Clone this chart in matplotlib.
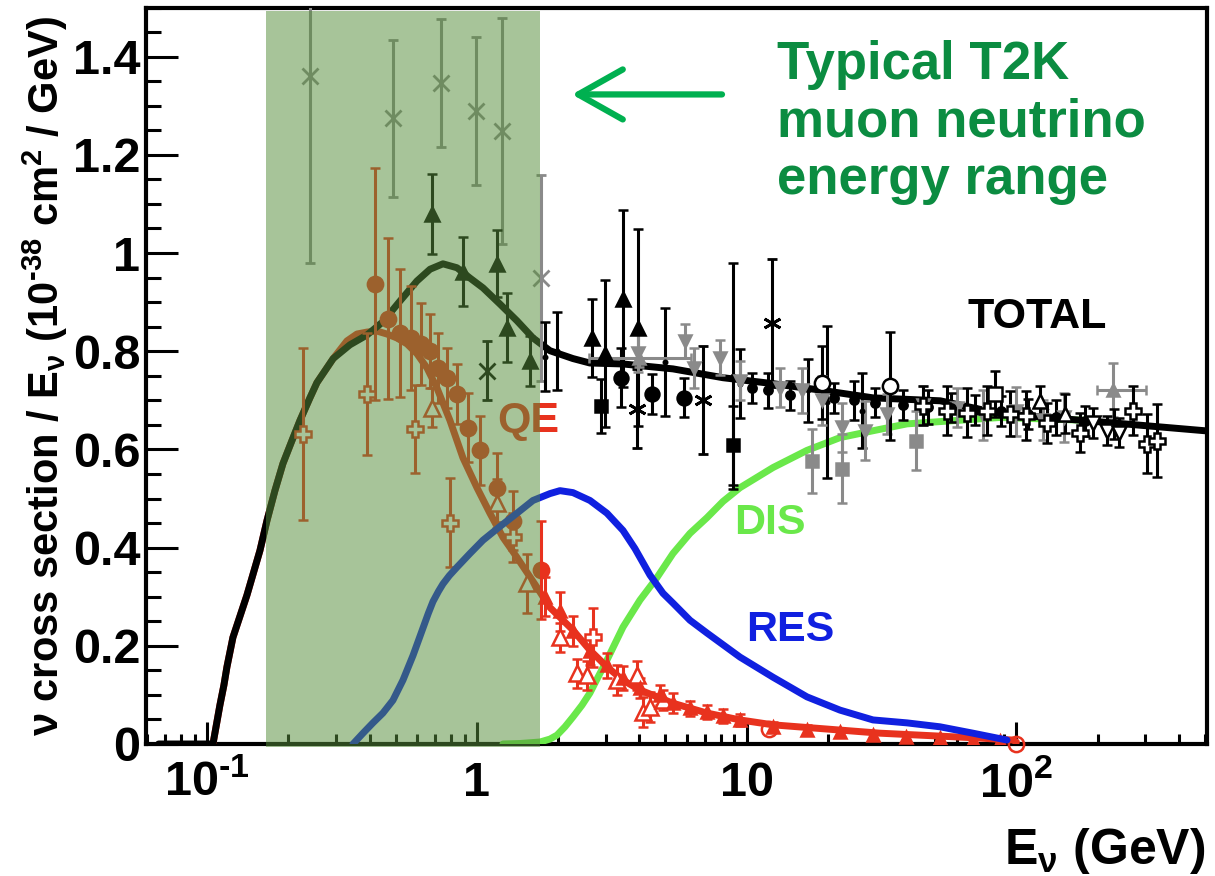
import matplotlib
matplotlib.use("Agg")
import matplotlib.pyplot as plt
from matplotlib.ticker import FixedLocator, FixedFormatter, LogLocator, NullFormatter, MultipleLocator, FuncFormatter

plt.rcParams["font.family"] = ["Liberation Sans", "DejaVu Sans"]
plt.rcParams["font.weight"] = "bold"
plt.rcParams["mathtext.fontset"] = "custom"
for k in ("rm", "it", "bf", "sf"):
    plt.rcParams[f"mathtext.{k}"] = "Liberation Sans:bold"

# ---- model curves (E in GeV, sigma/E in 1e-38 cm^2/GeV) ----
total_E = [0.066, 0.105, 0.1086, 0.1114, 0.1153, 0.1183, 0.1245, 0.1403, 0.1568, 0.1665, 0.1782, 0.1908,
           0.2061, 0.2207, 0.2403, 0.2551, 0.293, 0.338, 0.391, 0.448, 0.518, 0.599, 0.670, 0.748, 0.843,
           0.942, 1.053, 1.217, 1.407, 1.613, 1.865, 2.27, 2.62, 3.48, 5.33, 8.17, 12.5, 19.2, 29.4,
           52.2, 86.8, 228, 500]
total_v = [0.0, 0.0, 0.045, 0.079, 0.12, 0.157, 0.217, 0.303, 0.394, 0.455, 0.516, 0.571,
           0.618, 0.659, 0.705, 0.736, 0.785, 0.813, 0.833, 0.860, 0.902, 0.943, 0.967, 0.978, 0.970,
           0.949, 0.929, 0.896, 0.862, 0.827, 0.801, 0.785, 0.776, 0.774, 0.764, 0.746, 0.734, 0.720, 0.705,
           0.699, 0.673, 0.654, 0.638]

qe_E = [0.105, 0.1086, 0.1114, 0.1153, 0.1183, 0.1245, 0.1403, 0.1568, 0.1665, 0.1782, 0.1908, 0.2061,
        0.2207, 0.2403, 0.2551, 0.293, 0.3296, 0.3589, 0.391, 0.4258, 0.4637, 0.505, 0.55, 0.599, 0.6526,
        0.7108, 0.794, 0.887, 1.0, 1.117, 1.248, 1.407, 1.669, 1.865, 2.031, 2.269, 2.624, 3.034, 3.478,
        4.02, 5.33, 7.126, 9.445, 12.52, 31.2, 73.3, 97.1, 100]
qe_v = [0.0, 0.045, 0.079, 0.12, 0.157, 0.217, 0.303, 0.394, 0.455, 0.516, 0.571, 0.618,
        0.659, 0.705, 0.736, 0.785, 0.821, 0.835, 0.839, 0.841, 0.835, 0.827, 0.815, 0.795, 0.766,
        0.725, 0.659, 0.583, 0.522, 0.470, 0.421, 0.380, 0.319, 0.278, 0.258, 0.232, 0.191, 0.157, 0.130,
        0.110, 0.083, 0.063, 0.049, 0.039, 0.022, 0.012, 0.008, 0.004]

res_E = [0.347, 0.378, 0.4114, 0.448, 0.488, 0.5316, 0.579, 0.6306, 0.66, 0.6868, 0.72, 0.748, 0.79, 0.843,
         0.9419, 1.0525, 1.2169, 1.407, 1.613, 1.865, 2.031, 2.269, 2.624, 3.034, 3.478, 3.853, 4.38, 4.895,
         5.33, 6.163, 7.126, 9.445, 12.52, 16.73, 22.18, 29.4, 39.3, 52.1, 69.0, 92.3]
res_v = [0.0, 0.022, 0.043, 0.063, 0.089, 0.130, 0.180, 0.236, 0.266, 0.290, 0.311, 0.326, 0.343, 0.360,
         0.388, 0.415, 0.443, 0.470, 0.496, 0.510, 0.516, 0.512, 0.496, 0.470, 0.435, 0.398, 0.344, 0.307,
         0.287, 0.252, 0.226, 0.177, 0.136, 0.096, 0.069, 0.049, 0.043, 0.035, 0.022, 0.008]

dis_E = [1.248, 1.443, 1.712, 1.865, 1.98, 2.12, 2.269, 2.451, 2.624, 2.81, 3.034, 3.478, 4.02, 4.65,
         5.33, 6.163, 7.126, 8.17, 9.445, 12.52, 16.73, 22.18, 29.4, 39.3, 86.8, 187.5]
dis_v = [0.0, 0.001, 0.004, 0.010, 0.018, 0.035, 0.055, 0.079, 0.104, 0.136, 0.171, 0.238, 0.293, 0.339,
         0.388, 0.429, 0.461, 0.494, 0.522, 0.563, 0.598, 0.624, 0.638, 0.652, 0.665, 0.659]

# ---- measurements ----
grey_x_E = [0.240, 0.488, 0.736, 0.990, 1.238, 1.727]
grey_x_v = [1.360, 1.274, 1.346, 1.289, 1.248, 0.949]
grey_x_err = [0.38, 0.16, 0.13, 0.15, 0.23, 0.21]

blk_tri_E = [0.681, 0.887, 1.186, 1.292, 1.572, 2.669, 2.983, 3.478, 3.954]
blk_tri_v = [1.079, 0.962, 0.978, 0.848, 0.780, 0.827, 0.795, 0.907, 0.848]
blk_tri_err = [0.082, 0.07, 0.068, 0.07, 0.05, 0.08, 0.15, 0.18, 0.20]

blk_bar_E = [1.79, 1.98, 4.98, 8.9, 9.44, 16.9, 19.8, 26.8]
blk_bar_v = [0.789, 0.80, 0.778, 0.75, 0.734, 0.72, 0.697, 0.679]
blk_bar_err = [0.07, 0.08, 0.11, 0.23, 0.07, 0.065, 0.155, 0.077]

blk_x_E = [1.089]
blk_x_v = [0.76]
blk_x_err = [0.06]

blk_star_E = [3.92, 6.89, 12.4]
blk_star_v = [0.683, 0.70, 0.858]
blk_star_err = [0.08, 0.11, 0.13]

blk_circ_E = [3.42, 4.46, 5.86]
blk_circ_v = [0.746, 0.713, 0.705]
blk_circ_err = [0.06, 0.04, 0.04]

blk_sq_E = [2.88, 8.90]
blk_sq_v = [0.689, 0.608]
blk_sq_err = [0.055, 0.08]

blk_dot_E = [10.5, 12, 14.5, 21, 25, 30, 38, 47, 57, 70, 88, 110, 140, 180, 230]
blk_dot_v = [0.725, 0.72, 0.71, 0.705, 0.70, 0.695, 0.69, 0.687, 0.685, 0.68, 0.678, 0.672, 0.665, 0.658, 0.652]
blk_dot_err = [0.03, 0.035, 0.03, 0.03, 0.04, 0.03, 0.03, 0.035, 0.03, 0.03, 0.03, 0.03, 0.035, 0.03, 0.03]

open_circ_E = [19.0, 34.0]
open_circ_v = [0.736, 0.730]
open_circ_err = [0.075, 0.11]

grey_dtri_E = [3.95, 5.9, 6.36, 7.96, 9.44, 13.3, 16.1, 19.1, 22.5, 27.4, 33, 45, 60, 75, 100, 125, 150]
grey_dtri_v = [0.797, 0.821, 0.766, 0.787, 0.74, 0.726, 0.72, 0.70, 0.645, 0.638, 0.672, 0.69, 0.685, 0.67, 0.678, 0.66, 0.665]
grey_dtri_err = [0.04, 0.035, 0.04, 0.035, 0.04, 0.04, 0.045, 0.05, 0.05, 0.06, 0.04, 0.04, 0.04, 0.05, 0.05, 0.04, 0.05]

grey_sq_E = [17.5, 22.5, 42.4]
grey_sq_v = [0.577, 0.561, 0.618]
grey_sq_err = [0.065, 0.07, 0.06]

grey_utri_E = [4.0, 228]
grey_utri_v = [0.787, 0.72]
grey_utri_err = [0.02, 0.055]
grey_utri_xlo = [2.6, 199]
grey_utri_xhi = [6.2, 303]

open_cross_E = [45, 55.3, 65.6, 77.8, 94.6, 109, 130, 172, 271, 305, 332]
open_cross_v = [0.689, 0.679, 0.675, 0.679, 0.673, 0.669, 0.654, 0.634, 0.679, 0.612, 0.618]
open_cross_err = [0.04, 0.05, 0.05, 0.05, 0.045, 0.05, 0.04, 0.04, 0.05, 0.06, 0.075]

open_tri_E = [122, 151]
open_tri_v = [0.699, 0.673]
open_tri_err = [0.03, 0.04]

open_dtri_E = [192, 216, 240]
open_dtri_v = [0.654, 0.638, 0.634]
open_dtri_err = [0.03, 0.03, 0.03]

open_sq_E = [83.3]
open_sq_v = [0.713]
open_sq_err = [0.047]

qe_circ_E = [0.419, 0.468, 0.518, 0.569, 0.620, 0.670, 0.717, 0.774, 0.843, 0.926, 1.026, 1.186, 1.36, 1.727]
qe_circ_v = [0.937, 0.866, 0.837, 0.827, 0.815, 0.801, 0.766, 0.746, 0.713, 0.644, 0.598, 0.522, 0.455, 0.354]
qe_circ_err = [0.236, 0.164, 0.13, 0.106, 0.083, 0.075, 0.071, 0.061, 0.061, 0.07, 0.07, 0.07, 0.06, 0.1]

qe_cross_E = [0.226, 0.391, 0.589, 0.794, 1.36, 2.69]
qe_cross_v = [0.632, 0.713, 0.642, 0.451, 0.421, 0.217]
qe_cross_err = [0.175, 0.125, 0.09, 0.09, 0.05, 0.06]

qe_otri_E = [0.681, 1.186, 1.532, 2.03, 2.35, 2.56, 3.3, 3.92, 4.13, 4.38, 4.9]
qe_otri_v = [0.685, 0.49, 0.327, 0.217, 0.144, 0.14, 0.13, 0.14, 0.065, 0.075, 0.089]
qe_otri_err = [0.04, 0.05, 0.06, 0.03, 0.03, 0.03, 0.03, 0.03, 0.03, 0.03, 0.02]

qe_tri_E = [1.79, 2.03, 2.27, 2.62, 3.03, 3.48, 4.02, 4.77, 5.33, 6.16, 7.12, 8.17, 9.43, 12.5, 16.7,
            22.2, 29.4, 39, 52, 69, 87]
qe_tri_v = [0.30, 0.27, 0.23, 0.19, 0.16, 0.134, 0.114, 0.10, 0.083, 0.073, 0.065, 0.057, 0.049, 0.035, 0.028,
            0.024, 0.018, 0.014, 0.012, 0.008, 0.006]
qe_tri_err = [0.04, 0.04, 0.03, 0.03, 0.025, 0.025, 0.02, 0.02, 0.02, 0.015, 0.015, 0.015, 0.012, 0.01, 0.01,
              0.008, 0.008, 0.006, 0.006, 0.005, 0.005]

qe_ocirc_E = [12.1, 100]
qe_ocirc_v = [0.03, 0.0]

BLACK = "#000000"
GREY = "#8a8a8a"
RED = "#e8321e"


def points(ax, E, v, err, marker, color, face=None, ms=10, mew=1.8, xerr=None):
    ax.errorbar(E, v, yerr=err, xerr=xerr, ls="none", marker=marker, color=color, ecolor=color,
                mfc=face or color, mec=color, ms=ms, mew=mew, elinewidth=2.2,
                capsize=3.5, capthick=2.2, zorder=4)


fig = plt.figure(figsize=(12.15, 8.76), dpi=100)
ax = fig.add_axes([0.1202, 0.1507, 0.8736, 0.8407])
ax.set_xscale("log")

# curves
ax.plot(dis_E, dis_v, color="#6ae84a", lw=5, zorder=3, solid_capstyle="round", solid_joinstyle="round")
ax.plot(qe_E, qe_v, color=RED, lw=5, zorder=3.2, solid_capstyle="round", solid_joinstyle="round")
ax.plot(total_E, total_v, color=BLACK, lw=5, zorder=3.4, solid_capstyle="round", solid_joinstyle="round")
ax.plot(res_E, res_v, color="#1020e0", lw=5, zorder=5, solid_capstyle="round", solid_joinstyle="round")

# data
points(ax, grey_x_E, grey_x_v, grey_x_err, "x", GREY, ms=12, mew=2)
points(ax, blk_tri_E, blk_tri_v, blk_tri_err, "^", BLACK)
points(ax, blk_bar_E, blk_bar_v, blk_bar_err, ".", BLACK, ms=5)
points(ax, blk_x_E, blk_x_v, blk_x_err, "x", BLACK, ms=11, mew=2)
points(ax, blk_star_E, blk_star_v, blk_star_err, (6, 2, 0), BLACK, ms=13, mew=2)
points(ax, blk_circ_E, blk_circ_v, blk_circ_err, "o", BLACK)
points(ax, blk_sq_E, blk_sq_v, blk_sq_err, "s", BLACK, ms=9)
points(ax, grey_dtri_E, grey_dtri_v, grey_dtri_err, "v", GREY, ms=9)
points(ax, grey_sq_E, grey_sq_v, grey_sq_err, "s", GREY, ms=9)
points(ax, grey_utri_E, grey_utri_v, grey_utri_err, "^", GREY, ms=9,
       xerr=[[e - lo for e, lo in zip(grey_utri_E, grey_utri_xlo)],
             [hi - e for e, hi in zip(grey_utri_E, grey_utri_xhi)]])
points(ax, blk_dot_E, blk_dot_v, blk_dot_err, "o", BLACK, ms=6)
points(ax, open_circ_E, open_circ_v, open_circ_err, "o", BLACK, face="white", ms=11)
points(ax, open_cross_E, open_cross_v, open_cross_err, "P", BLACK, face="white", ms=12)
points(ax, open_tri_E, open_tri_v, open_tri_err, "^", BLACK, face="white", ms=10)
points(ax, open_dtri_E, open_dtri_v, open_dtri_err, "v", BLACK, face="white", ms=10)
points(ax, open_sq_E, open_sq_v, open_sq_err, "s", BLACK, face="white", ms=10)

points(ax, qe_circ_E, qe_circ_v, qe_circ_err, "o", RED, ms=11)
points(ax, qe_cross_E, qe_cross_v, qe_cross_err, "P", RED, face="white", ms=12)
points(ax, qe_otri_E, qe_otri_v, qe_otri_err, "^", RED, face="white", ms=11)
points(ax, qe_tri_E, qe_tri_v, qe_tri_err, "^", RED, ms=8)
ax.plot(qe_ocirc_E, qe_ocirc_v, "o", mfc="none", mec=RED, ms=11, mew=1.8, zorder=4, clip_on=False)

# curve labels
lab = dict(fontsize=31, fontweight="bold", ha="center", va="center", zorder=6)
ax.text(119, 0.87, "TOTAL", color=BLACK, **lab)
ax.text(1.546, 0.657, "QE", color=RED, **lab)
ax.text(12.2, 0.451, "DIS", color="#6ae84a", **lab)
ax.text(14.5, 0.232, "RES", color="#1020e0", **lab)

# T2K energy range band (drawn over everything inside it)
ax.axvspan(0.165, 1.712, ymin=-0.004, ymax=0.9953, color="#578e3c", alpha=0.52,
           lw=0, zorder=10, clip_on=False)

ax.text(12.95, 1.266, "Typical T2K\nmuon neutrino\nenergy range", color="#0b8c41",
        fontsize=38, fontweight="bold", ha="left", va="center", linespacing=1.2, zorder=12)
ax.annotate("", xy=(2.25, 1.323), xytext=(8.10, 1.323),
            arrowprops=dict(arrowstyle="->,head_length=0.8,head_width=0.45", color="#00b050",
                            lw=4.5, mutation_scale=40, shrinkA=0, shrinkB=0), zorder=12)

# axes
ax.set_xlim(0.0593, 511)
ax.set_ylim(0, 1.5)
ax.xaxis.set_major_locator(FixedLocator([0.1, 1, 10, 100]))
ax.xaxis.set_major_formatter(FixedFormatter([r"$10^{\text{-}1}$", "1", "10", r"$10^{2}$"]))
ax.xaxis.set_minor_locator(LogLocator(base=10, subs=[2, 3, 4, 5, 6, 7, 8, 9], numticks=20))
ax.xaxis.set_minor_formatter(NullFormatter())
ax.yaxis.set_major_locator(MultipleLocator(0.2))
ax.yaxis.set_minor_locator(MultipleLocator(0.05))
ax.yaxis.set_major_formatter(FuncFormatter(lambda val, _: f"{val:g}"))

for s in ax.spines.values():
    s.set_linewidth(3)
ax.tick_params(axis="both", which="both", direction="in", top=False, right=False, width=2.2)
ax.tick_params(axis="y", which="major", length=23, labelsize=35, pad=4)
ax.tick_params(axis="y", which="minor", length=11)
ax.tick_params(axis="x", which="major", length=16, labelsize=35, pad=12)
ax.tick_params(axis="x", which="minor", length=7)
for t in ax.get_xticklabels() + ax.get_yticklabels():
    t.set_fontweight("bold")

ax.set_ylabel(r"$\nu$ cross section / E$_{\nu}$ (10$^{\text{-}38}$ cm$^{2}$ / GeV)", fontsize=30,
              fontweight="bold")
ax.yaxis.set_label_coords(-0.072, 0.5)
ax.text(0.998, -0.112, r"E$_{\nu}$ (GeV)", transform=ax.transAxes, ha="right", va="top",
        fontsize=36, fontweight="bold")

fig.savefig("out.png", dpi=100)
